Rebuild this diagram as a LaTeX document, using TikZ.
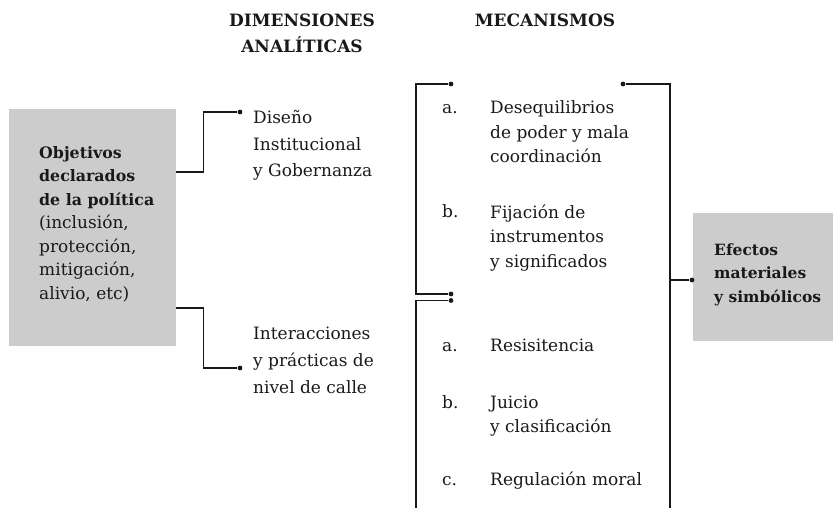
\documentclass[tikz,border=0pt]{standalone}
\usepackage{fontspec}
\setmainfont{DejaVu Serif}
\definecolor{boxgray}{HTML}{CCCCCC}
\tikzset{
  conn/.style={line width=1.2pt, black!90},
  dotc/.style={circle, fill=black!90, inner sep=0pt, minimum size=4.8pt},
  graybox/.style={fill=boxgray, draw=none, inner sep=0pt, anchor=north west},
  txt/.style={inner sep=0pt, align=left, anchor=base west, text=black!90},
  body/.style={txt, font=\fontsize{17}{24.5}\selectfont},
  bodyl/.style={txt, font=\fontsize{17}{27}\selectfont},
  bodyb/.style={txt, font=\fontsize{17}{23.5}\selectfont},
  bfb/.style={font=\fontsize{15.5}{23.5}\selectfont\bfseries},
  head/.style={inner sep=0pt, align=center, anchor=base, text=black!90, font=\fontsize{17}{26}\selectfont\bfseries}
}
\newcommand{\bfl}[1]{{\bfseries\fontsize{15.8}{23.5}\selectfont #1}}
\begin{document}
\begin{tikzpicture}[x=1pt,y=-1pt]
\useasboundingbox (0,0) rectangle (833,508);
% headers (base anchor = last line)
\node[head] (hdim) at (302,53) {DIMENSIONES\\ANALÍTICAS};
\node[head] (hmec) at (545,27) {MECANISMOS};
% left box
\node[graybox, minimum width=167pt, minimum height=237pt] (obj) at (9,109) {};
\node[bodyb] (objtxt) at (39,299) {\bfl{Objetivos}\\\bfl{declarados}\\\bfl{de la política}\\(inclusión,\\protección,\\mitigación,\\alivio, etc)};
% dimensions
\node[dotc] (d1) at (240,112) {};
\node[dotc] (d2) at (240,368) {};
\draw[conn] ([yshift=-63pt]obj.north east) -- ++(27,0) |- (d1);
\draw[conn] ([yshift=-199pt]obj.north east) -- ++(27,0) |- (d2);
\node[bodyl] (dis) at (253,177) {Diseño\\Institucional\\y Gobernanza};
\node[bodyl] (int) at (253,393.4) {Interacciones\\y prácticas de\\nivel de calle};
% mechanisms brackets
\coordinate (lx) at (416,0);
\coordinate (rx) at (670,0);
\coordinate (bot) at (0,508);
\node[dotc] (m1) at (451,84) {};
\node[dotc] (m2) at (451,294) {};
\node[dotc] (m3) at (451,300.5) {};
\node[dotc] (m4) at (623,84) {};
\draw[conn] (m1) -- (m1 -| lx) -- (m2 -| lx) -- (m2);
\draw[conn] (m3) -- (m3 -| lx) -- (lx |- bot);
\draw[conn] (m4) -- (m4 -| rx) -- (rx |- bot);
% right box
\node[graybox, minimum width=141pt, minimum height=128pt] (eff) at (693,213) {};
\node[dotc] (m5) at (692,280) {};
\draw[conn] (rx |- m5) -- (m5);
\node[txt, bfb] (efftxt) at (714,302) {Efectos\\materiales\\y simbólicos};
% mechanism items
\node[body] (la) at (442,114) {a.};
\node[body] (ta) at (490,163) {Desequilibrios\\de poder y mala\\coordinación};
\node[body] (lb) at (442,218) {b.};
\node[body] (tb) at (490,267) {Fijación de\\instrumentos\\y significados};
\node[body] (lc) at (442,351) {a.};
\node[body] (tc) at (490,351) {Resisitencia};
\node[body] (ld) at (442,408) {b.};
\node[body] (td) at (490,432.5) {Juicio\\y clasificación};
\node[body] (le) at (442,485) {c.};
\node[body] (te) at (490,485) {Regulación moral};
\end{tikzpicture}
\end{document}
